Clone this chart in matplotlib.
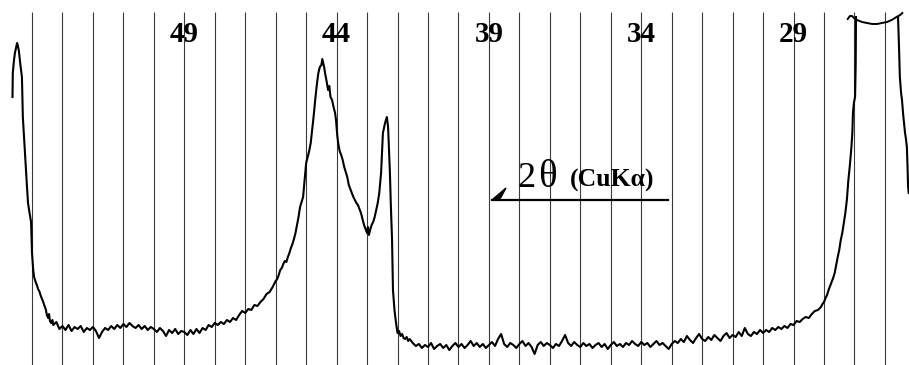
import numpy as np
import matplotlib
matplotlib.use('Agg')
import matplotlib.pyplot as plt

# ============================================================
# Data (2theta in degrees, intensity in a.u.)
# ============================================================
two_theta = [
    54.64, 54.63, 54.59, 54.56, 54.52, 54.49, 54.46, 54.43, 54.38, 54.33,
    54.30, 54.25, 54.20, 54.16, 54.13, 54.08, 54.03, 54.00, 53.96, 53.93,
    53.88, 53.84, 53.80, 53.75, 53.71, 53.67, 53.63, 53.60, 53.55, 53.51,
    53.47, 53.44, 53.41, 53.37, 53.33,
    53.3, 53.2, 53.1, 53.0, 52.9, 52.8, 52.7, 52.6, 52.5, 52.4,
    52.3, 52.2, 52.1, 52.0, 51.9, 51.8, 51.7, 51.6, 51.5, 51.4,
    51.3, 51.2, 51.1, 51.0, 50.9, 50.8, 50.7, 50.6, 50.5, 50.4,
    50.3, 50.2, 50.1, 50.0, 49.9, 49.8, 49.7, 49.6, 49.5, 49.4,
    49.3, 49.2, 49.1, 49.0, 48.9, 48.8, 48.7, 48.6, 48.5, 48.4,
    48.3, 48.2, 48.1, 48.0, 47.9, 47.8, 47.7, 47.6, 47.5, 47.4,
    47.3, 47.2, 47.1, 47.0, 46.9, 46.8, 46.7, 46.6, 46.5, 46.4,
    46.3, 46.2, 46.1, 46.0, 45.95, 45.9, 45.85, 45.8, 45.75, 45.7,
    45.65, 45.6, 45.55, 45.5, 45.45, 45.4, 45.35, 45.3, 45.25, 45.2,
    45.15, 45.1, 45.05, 45.0, 44.95, 44.9, 44.85, 44.8, 44.75, 44.7,
    44.65, 44.6, 44.55, 44.5, 44.47, 44.44, 44.41, 44.38, 44.33, 44.28,
    44.24, 44.2, 44.15, 44.1, 44.05, 44.02, 43.98, 43.95, 43.9, 43.85,
    43.8, 43.75, 43.7, 43.65, 43.6, 43.55, 43.5, 43.45, 43.4, 43.35,
    43.3, 43.25, 43.2, 43.15, 43.1, 43.05, 43.0, 42.97, 42.94, 42.9,
    42.85, 42.8, 42.75, 42.7, 42.65, 42.6, 42.57, 42.54, 42.51, 42.48,
    42.44, 42.41, 42.38, 42.35, 42.31, 42.28, 42.25, 42.22, 42.18, 42.15,
    42.1, 42.05, 42.0, 41.95, 41.9, 41.85, 41.8, 41.75, 41.7, 41.65,
    41.6,
    41.5, 41.4, 41.3, 41.2, 41.1, 41.0, 40.9, 40.8, 40.7, 40.6,
    40.5, 40.4, 40.3, 40.2, 40.1, 40.0, 39.9, 39.8, 39.7, 39.6,
    39.5, 39.4, 39.3, 39.2, 39.1, 39.0, 38.9, 38.8, 38.7, 38.6,
    38.5, 38.4, 38.3, 38.2, 38.1, 38.0, 37.9, 37.8, 37.7, 37.6,
    37.5, 37.4, 37.3, 37.2, 37.1, 37.0, 36.9, 36.8, 36.7, 36.6,
    36.5, 36.4, 36.3, 36.2, 36.1, 36.0, 35.9, 35.8, 35.7, 35.6,
    35.5, 35.4, 35.3, 35.2, 35.1, 35.0, 34.9, 34.8, 34.7, 34.6,
    34.5, 34.4, 34.3, 34.2, 34.1, 34.0, 33.9, 33.8, 33.7, 33.6,
    33.5, 33.4, 33.3, 33.2, 33.1, 33.0, 32.9, 32.8, 32.7, 32.6,
    32.5, 32.4, 32.3, 32.2, 32.1, 32.0, 31.9, 31.8, 31.7, 31.6,
    31.5, 31.4, 31.3, 31.2, 31.1, 31.0, 30.9, 30.8, 30.7, 30.6,
    30.5, 30.4, 30.3, 30.2, 30.1, 30.0, 29.9, 29.8, 29.7, 29.6,
    29.5, 29.4, 29.3, 29.2, 29.1, 29.0, 28.9, 28.8, 28.7, 28.6,
    28.5, 28.4, 28.3, 28.2, 28.1, 28.05, 28.0, 27.95, 27.9, 27.85,
    27.8, 27.75, 27.7, 27.65, 27.6, 27.55, 27.5, 27.45, 27.4, 27.35,
    27.3, 27.25, 27.2, 27.15, 27.1, 27.07, 27.05, 27.02, 26.98, 26.96,
    26.95,
]
intensity = [
    268, 292, 305, 312, 318, 322, 319, 314, 300, 288,
    248, 222, 195, 176, 162, 152, 143, 112, 95, 88,
    83, 80, 76, 73, 69, 66, 63, 60, 56, 50,
    47, 51, 44, 42, 45,
    40, 43, 36, 39, 35, 40, 34, 38, 36, 39,
    33, 37, 35, 38, 34, 27, 33, 37, 35, 39,
    36, 40, 37, 41, 38, 42, 39, 37, 40, 36,
    39, 35, 38, 36, 33, 37, 34, 29, 35, 32,
    36, 31, 34, 33, 30, 35, 31, 36, 32, 37,
    35, 40, 38, 42, 40, 43, 41, 45, 43, 47,
    45, 50, 54, 52, 56, 55, 60, 59, 63, 66,
    71, 73, 78, 84, 86, 90, 95, 97, 101, 104,
    103, 108, 112, 117, 121, 126, 132, 140, 148, 158,
    163, 168, 185, 202, 208, 214, 222, 236, 250, 266,
    280, 292, 298, 300, 306, 302, 298, 292, 284, 275,
    279, 268, 265, 258, 252, 245, 230, 222, 214, 210,
    205, 198, 193, 188, 180, 176, 172, 168, 165, 162,
    160, 156, 152, 146, 140, 136, 132, 138, 130, 135,
    140, 143, 148, 155, 162, 172, 182, 192, 212, 232,
    238, 242, 245, 248, 238, 215, 192, 160, 125, 75,
    55, 42, 32, 34, 29, 31, 27, 26, 28, 24,
    26,
    22, 19, 21, 17, 20, 18, 22, 16, 19, 21,
    17, 20, 15, 19, 22, 18, 21, 17, 20, 24,
    19, 22, 18, 21, 17, 20, 23, 19, 26, 31,
    21, 18, 22, 20, 17, 21, 24, 19, 22, 18,
    11, 20, 23, 19, 22, 20, 17, 21, 19, 24,
    30, 22, 19, 23, 20, 18, 22, 19, 21, 17,
    20, 22, 18, 21, 16, 20, 23, 19, 21, 18,
    22, 20, 24, 21, 19, 23, 20, 22, 18, 21,
    24, 20, 22, 19, 16, 21, 24, 22, 26, 23,
    29, 25, 22, 27, 31, 26, 24, 28, 25, 30,
    27, 24, 29, 32, 27, 30, 28, 33, 29, 37,
    31, 29, 33, 31, 35, 32, 35, 33, 37, 35,
    38, 36, 39, 37, 41, 40, 44, 43, 46, 48,
    47, 51, 54, 55, 58, 61, 63, 67, 70, 75,
    79, 83, 87, 92, 100, 108, 115, 125, 132, 142,
    152, 165, 185, 200, 218, 232, 252, 262, 268, 300,
    348,
]

# off-scale peak: falling flank on the far right
tail_theta = [25.57, 25.54, 25.51, 25.47, 25.44, 25.40, 25.34, 25.31, 25.28, 25.26, 25.24, 25.22]
tail_int = [348, 320, 288, 272, 265, 250, 232, 226, 218, 200, 178, 172]

# break mark drawn over the clipped peak top
cut_theta = [27.22, 27.15, 27.08, 27.02, 26.92, 26.75, 26.59, 26.42, 26.26, 26.10, 25.93, 25.78, 25.62, 25.50, 25.43]
cut_int = [346, 349, 349, 347, 345, 343, 342, 341, 341, 342, 343, 345, 348, 350, 352]

grid_theta = list(range(26, 55))
label_theta = [49, 44, 39, 34, 29]

# ============================================================
# Figure
# ============================================================
SERIF = ['Liberation Serif', 'DejaVu Serif']

fig = plt.figure(figsize=(9.09, 3.65), dpi=100)
ax = fig.add_axes([0, 0, 1, 1])
ax.set_xlim(55.05, 25.21)
ax.set_ylim(0, 365)
ax.axis('off')

ax.vlines(grid_theta, 0, 353, color='#3a3a3a', linewidth=0.8, zorder=1)

ax.plot(two_theta, intensity, '-', color='black', linewidth=1.5, zorder=3)
ax.plot(tail_theta, tail_int, '-', color='black', linewidth=1.5, zorder=3)
ax.plot(cut_theta, cut_int, '-', color='black', linewidth=1.4, zorder=3)

for t in label_theta:
    ax.text(t, 331, str(t), ha='center', va='center', fontsize=21,
            fontweight='bold', family=SERIF, zorder=4)

# 2theta direction arrow
ax.plot([38.90, 33.12], [165, 165], '-', color='black', linewidth=1.6, zorder=3)
ax.fill([38.90, 38.44, 38.62], [165, 177, 167], color='black', zorder=3)
ax.text(38.05, 178, '2', ha='left', va='baseline', fontsize=26, family=SERIF, zorder=4)
ax.text(37.39, 178, 'θ', ha='left', va='baseline', fontsize=28, family=SERIF, zorder=4)
ax.text(36.34, 178, '(CuKα)', ha='left', va='baseline', fontsize=18.5,
        fontweight='bold', family=SERIF, zorder=4)

fig.savefig('out.png', dpi=100, facecolor='white')
plt.close()
